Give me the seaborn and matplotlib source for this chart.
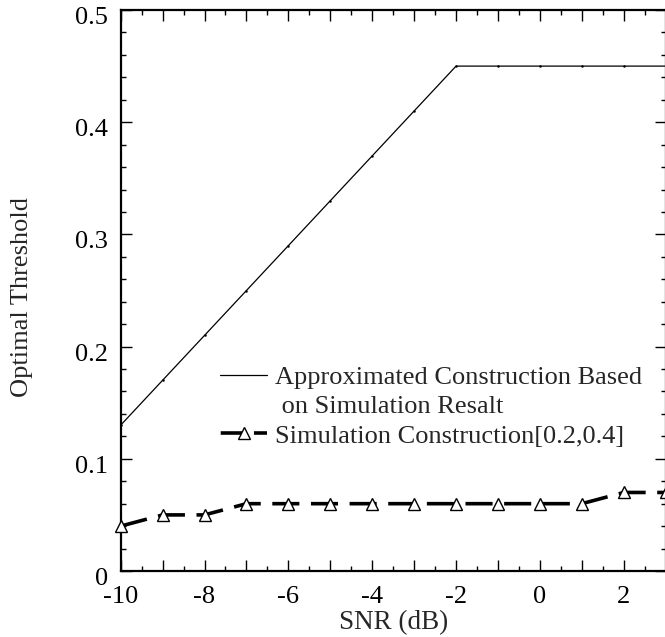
import numpy as np
import pandas as pd
import matplotlib
matplotlib.use("Agg")
import matplotlib.pyplot as plt
import matplotlib.transforms as mtransforms
from matplotlib.ticker import MultipleLocator, FuncFormatter
from matplotlib.lines import Line2D
import seaborn as sns

snr = [-10, -9, -8, -7, -6, -5, -4, -3, -2, -1, 0, 1, 2, 3]
approx_threshold = [0.13, 0.17, 0.21, 0.25, 0.29, 0.33, 0.37, 0.41, 0.45, 0.45, 0.45, 0.45, 0.45, 0.45]
sim_threshold = [0.04, 0.05, 0.05, 0.06, 0.06, 0.06, 0.06, 0.06, 0.06, 0.06, 0.06, 0.06, 0.07, 0.07]
label_approx_1 = "Approximated Construction Based"
label_approx_2 = " on Simulation Resalt"
label_sim = "Simulation Construction[0.2,0.4]"
xlabel = "SNR (dB)"
ylabel = "Optimal Threshold"

sns.set_theme(style="ticks")
plt.rcParams['font.family'] = ['Liberation Serif', 'DejaVu Serif']
plt.rcParams['axes.unicode_minus'] = False

df = pd.DataFrame({"snr": snr, "approx": approx_threshold, "sim": sim_threshold})

fig = plt.figure(figsize=(6.65, 6.37), dpi=100)
ax = fig.add_axes([0.1815, 0.1036, 0.8195, 0.8807])

dash_style = (0, (7.5, 3.2))
sns.lineplot(data=df, x="snr", y="approx", ax=ax, color="black", lw=0.9,
             marker="o", markersize=1.8, markeredgewidth=0, legend=False)
sns.lineplot(data=df, x="snr", y="sim", ax=ax, color="black", lw=2.6,
             linestyle=dash_style, marker="^", markersize=9,
             markerfacecolor="white", markeredgecolor="black",
             markeredgewidth=1.0, legend=False, zorder=3)
for ln in ax.lines:
    ln.set_clip_on(False)

ax.set_xlim(-10, 3)
ax.set_ylim(0, 0.5)

ax.xaxis.set_major_locator(MultipleLocator(1))
ax.xaxis.set_minor_locator(MultipleLocator(0.5))
ax.xaxis.set_major_formatter(FuncFormatter(lambda v, p: f"{int(round(v))}" if int(round(v)) % 2 == 0 else ""))
ax.yaxis.set_major_locator(MultipleLocator(0.1))
ax.yaxis.set_minor_locator(MultipleLocator(0.02))
ax.yaxis.set_major_formatter(FuncFormatter(lambda v, p: "0" if abs(v) < 1e-9 else f"{v:.1f}"))

ax.tick_params(axis="both", which="both", direction="in", top=True, right=True,
               colors="black", width=1.0)
ax.tick_params(axis="both", which="major", length=8, labelsize=19)
ax.tick_params(axis="both", which="minor", length=3.7)
ax.tick_params(axis="x", which="major", pad=11)
ax.tick_params(axis="y", which="major", pad=9)
for s in ax.spines.values():
    s.set_linewidth(1.6)
    s.set_color("black")

# y tick labels sit slightly below their ticks in the reference
shift = mtransforms.ScaledTranslation(0, -4 / 72, fig.dpi_scale_trans)
for lab in ax.yaxis.get_majorticklabels():
    lab.set_transform(lab.get_transform() + shift)

ax.set_xlabel(xlabel, fontsize=19.5, labelpad=0)
ax.set_ylabel(ylabel, fontsize=19)
ax.xaxis.set_label_coords(0.5, -0.069)
ax.yaxis.set_label_coords(-0.161, 0.488)

h1 = Line2D([], [], color="black", lw=0.9)
h2 = Line2D([], [], color="none")
h3 = Line2D([], [], color="black", lw=2.6, linestyle=(9.0, (6.0, 3.2)), marker="^",
            markersize=9, markerfacecolor="white", markeredgecolor="black", markeredgewidth=1.0)
leg = ax.legend([h1, h2, h3], [label_approx_1, label_approx_2, label_sim],
                loc="upper left", bbox_to_anchor=(0.183, 0.366), frameon=False,
                fontsize=19, handlelength=1.76, handletextpad=0.3, borderpad=0,
                borderaxespad=0, labelspacing=0.22, numpoints=1)

fig.savefig("out.png", dpi=100)
